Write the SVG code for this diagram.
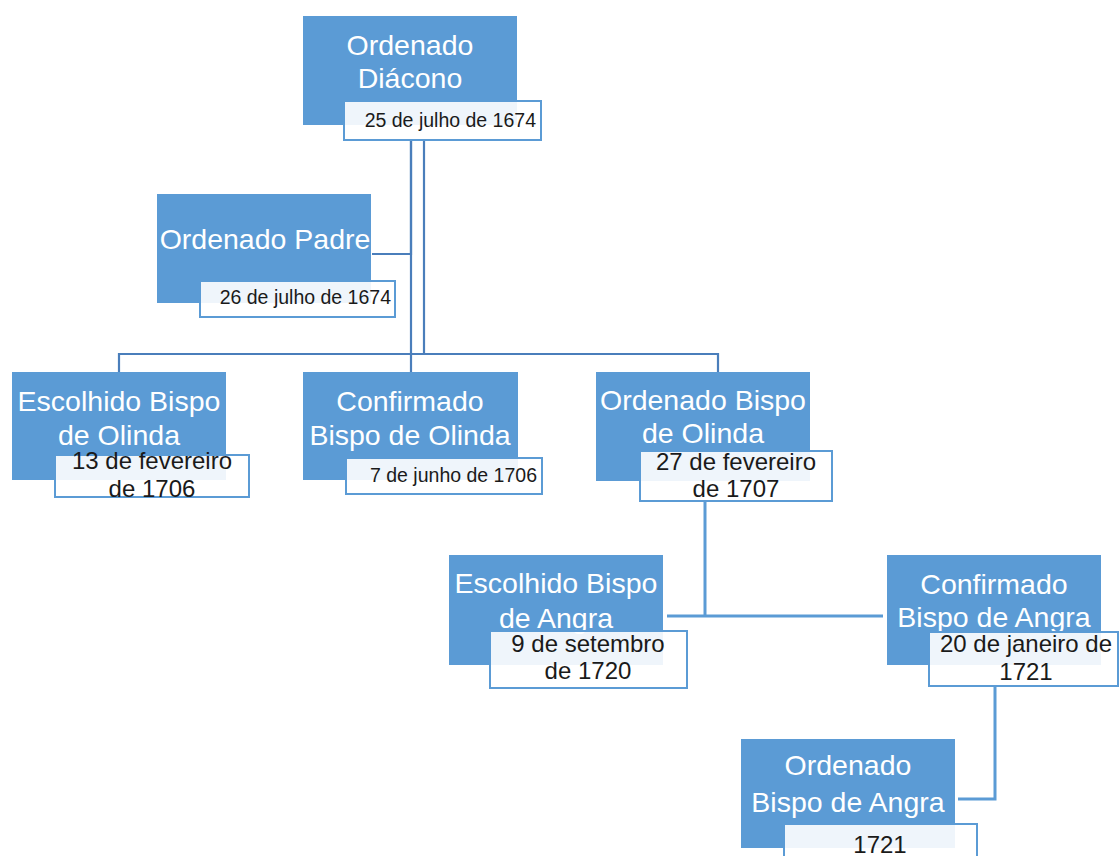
<svg xmlns="http://www.w3.org/2000/svg" width="1120" height="856" viewBox="0 0 1120 856">
  <style>
    .node { fill: #5b9bd5; }
    .label { font-family: "Liberation Sans", Arial, sans-serif; font-size: 28.5px; fill: #ffffff; text-anchor: middle; }
    .date { fill: #ffffff; fill-opacity: 0.9; stroke: #5b9bd5; stroke-width: 2; }
    .dsmall { font-family: "Liberation Sans", Arial, sans-serif; font-size: 19.5px; fill: #1a1a1a; text-anchor: end; }
    .dbig { font-family: "Liberation Sans", Arial, sans-serif; font-size: 24px; fill: #1a1a1a; text-anchor: middle; }
    .link { fill: none; stroke: #4a7ebb; stroke-width: 2.2; }
    .link2 { fill: none; stroke: #5b9bd5; stroke-width: 3; }
  </style>
  <rect width="1120" height="856" fill="#ffffff"/>

  <!-- elbow connectors between the stages -->
  <g id="connectors">
    <path class="link" d="M411 140 V372"/>
    <path class="link" d="M411 140 V254 H372"/>
    <path class="link" d="M424 140 V354"/>
    <path class="link" d="M119 372 V354 H718 V372"/>
    <path class="link2" d="M705 501 V616"/>
    <path class="link2" d="M667 616 H883"/>
    <path class="link2" d="M995 686 V799 H958"/>
  </g>

  <g id="ordenado-diacono">
    <rect class="node" x="303" y="16" width="214" height="109"/>
    <text class="label" x="410" y="55">Ordenado</text>
    <text class="label" x="410" y="88">Diácono</text>
    <rect class="date" x="344" y="101" width="197" height="39"/>
    <text class="dsmall" x="536" y="127">25 de julho de 1674</text>
  </g>

  <g id="ordenado-padre">
    <rect class="node" x="157" y="194" width="214" height="109"/>
    <text class="label" x="265" y="249">Ordenado Padre</text>
    <rect class="date" x="200" y="281" width="195" height="36"/>
    <text class="dsmall" x="391" y="304">26 de julho de 1674</text>
  </g>

  <g id="escolhido-olinda">
    <rect class="node" x="12" y="372" width="214" height="108"/>
    <text class="label" x="119" y="411">Escolhido Bispo</text>
    <text class="label" x="119" y="445">de Olinda</text>
    <rect class="date" x="55" y="455" width="194" height="42"/>
    <text class="dbig" x="152" y="469">13 de fevereiro</text>
    <text class="dbig" x="152" y="497">de 1706</text>
  </g>

  <g id="confirmado-olinda">
    <rect class="node" x="303" y="372" width="215" height="108"/>
    <text class="label" x="410" y="411">Confirmado</text>
    <text class="label" x="410" y="445">Bispo de Olinda</text>
    <rect class="date" x="346" y="458" width="196" height="36"/>
    <text class="dsmall" x="537" y="482">7 de junho de 1706</text>
  </g>

  <g id="ordenado-olinda">
    <rect class="node" x="596" y="372" width="214" height="109"/>
    <text class="label" x="703" y="410">Ordenado Bispo</text>
    <text class="label" x="703" y="443">de Olinda</text>
    <rect class="date" x="640" y="451" width="192" height="50"/>
    <text class="dbig" x="736" y="470">27 de fevereiro</text>
    <text class="dbig" x="736" y="497">de 1707</text>
  </g>

  <g id="escolhido-angra">
    <rect class="node" x="449" y="555" width="214" height="110"/>
    <text class="label" x="556" y="593">Escolhido Bispo</text>
    <text class="label" x="556" y="628">de Angra</text>
    <rect class="date" x="490" y="631" width="197" height="57"/>
    <text class="dbig" x="588" y="652">9 de setembro</text>
    <text class="dbig" x="588" y="679">de 1720</text>
  </g>

  <g id="confirmado-angra">
    <rect class="node" x="887" y="555" width="214" height="110"/>
    <text class="label" x="994" y="594">Confirmado</text>
    <text class="label" x="994" y="627">Bispo de Angra</text>
    <rect class="date" x="929" y="632" width="189" height="54"/>
    <text class="dbig" x="1026" y="652">20 de janeiro de</text>
    <text class="dbig" x="1026" y="680">1721</text>
  </g>

  <g id="ordenado-angra">
    <rect class="node" x="741" y="739" width="214" height="109"/>
    <text class="label" x="848" y="775">Ordenado</text>
    <text class="label" x="848" y="812">Bispo de Angra</text>
    <rect class="date" x="784" y="824" width="193" height="40"/>
    <text class="dbig" x="880" y="853">1721</text>
  </g>
</svg>
